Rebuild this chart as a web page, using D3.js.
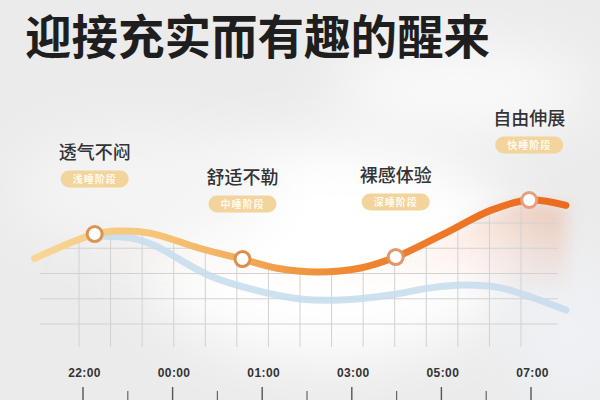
<!DOCTYPE html>
<html>
<head>
<meta charset="utf-8">
<script src="https://cdn.jsdelivr.net/npm/d3@7"></script>
<style>
body { margin: 0; background: #ececec; }
svg { display: block; }
</style>
</head>
<body>
<svg width="600" height="400"></svg>
<script>
// **** chart values ****
var stageNames = ['透气不闷', '舒适不勒', '裸感体验', '自由伸展'];
var stageTags = ['浅睡阶段', '中睡阶段', '深睡阶段', '快睡阶段'];
// x in time slots (0 = 22:00, 5 = 07:00), y in grid levels
var stageX = [0.13, 1.78, 3.49, 4.98];
var stageY = [3.56, 2.57, 2.65, 4.91];

var timeLabels = ['22:00', '00:00', '01:00', '03:00', '05:00', '07:00'];
var minorTicks = [0.5, 1.5, 2.5, 3.5, 4.5];
var gridLevels = [0, 1, 2, 3, 4];

var mainX = [-0.54, 0.13, 0.4, 0.75, 1.3, 1.78, 2.15, 2.62, 3.1, 3.49, 4.1, 4.55, 4.98, 5.39];
var mainY = [2.6, 3.56, 3.68, 3.6, 3.0, 2.57, 2.22, 2.06, 2.22, 2.65, 3.7, 4.5, 4.91, 4.7];

var blueX = [0.19, 0.53, 0.81, 1.09, 1.42, 1.87, 2.43, 2.87, 3.43, 3.88, 4.27, 4.66, 5.0, 5.39];
var blueY = [3.48, 3.41, 3.09, 2.53, 1.9, 1.39, 0.99, 0.95, 1.15, 1.43, 1.54, 1.43, 1.07, 0.55];

// **** scales ****
var xScale = d3.scaleLinear().domain([0, 5]).range([83, 531]);
var yScale = d3.scaleLinear().domain([0, 4]).range([324, 223]);
var colScale = d3.scaleLinear().domain([0, 14]).range([79, 521]);

var svg = d3.select('svg');
var defs = svg.append('defs');
var cjk = '"Noto Sans CJK SC", "Noto Sans CJK JP", sans-serif';

let mainPts = mainX.map((d, i) => [d, mainY[i]]);
let bluePts = blueX.map((d, i) => [d, blueY[i]]);

let line = d3.line()
    .x(d => xScale(d[0]))
    .y(d => yScale(d[1]))
    .curve(d3.curveCatmullRom.alpha(0.5));

let under = d3.area()
    .x(d => xScale(d[0]))
    .y0(360)
    .y1(d => yScale(d[1]) + 3)
    .curve(d3.curveCatmullRom.alpha(0.5));

// **** defs ****
defs.append('filter').attr('id', 'blur').attr('x', '-50%').attr('y', '-50%')
    .attr('width', '200%').attr('height', '200%')
    .append('feGaussianBlur').attr('stdDeviation', 30);
defs.append('filter').attr('id', 'soft').attr('x', '-20%').attr('y', '-50%')
    .attr('width', '140%').attr('height', '200%')
    .append('feGaussianBlur').attr('stdDeviation', 8);

let lg = defs.append('linearGradient').attr('id', 'lineGrad')
    .attr('gradientUnits', 'userSpaceOnUse')
    .attr('x1', 35).attr('x2', 565).attr('y1', 0).attr('y2', 0);
[[0, '#f7d695'], [0.22, '#f5c679'], [0.36, '#f3b262'], [0.48, '#f09a45'],
 [0.62, '#ee8430'], [0.8, '#ee7626'], [1, '#ec6a1e']].forEach(s => {
    lg.append('stop').attr('offset', s[0]).attr('stop-color', s[1]);
});

let glowGrad = defs.append('linearGradient').attr('id', 'glowGrad')
    .attr('gradientUnits', 'userSpaceOnUse')
    .attr('x1', 35).attr('x2', 565).attr('y1', 0).attr('y2', 0);
[[0, '#f6d7a0', 0.0], [0.35, '#f2b27a', 0.12], [0.65, '#f09060', 0.15], [1, '#ee7a4a', 0.35]].forEach(s => {
    glowGrad.append('stop').attr('offset', s[0]).attr('stop-color', s[1]).attr('stop-opacity', s[2]);
});

let fadeGrad = defs.append('linearGradient').attr('id', 'fadeGrad')
    .attr('x1', 0).attr('x2', 0).attr('y1', 0).attr('y2', 1);
fadeGrad.append('stop').attr('offset', 0).attr('stop-color', '#fff');
fadeGrad.append('stop').attr('offset', 0.6).attr('stop-color', '#000');
defs.append('mask').attr('id', 'fadeMask')
    .attr('maskUnits', 'userSpaceOnUse')
    .append('rect').attr('x', 0).attr('y', 195).attr('width', 600).attr('height', 170)
    .attr('fill', 'url(#fadeGrad)');

defs.append('clipPath').attr('id', 'underClip')
    .append('path').attr('d', under(mainPts));

// **** background ****
let bg = svg.append('g');
bg.append('rect').attr('width', 600).attr('height', 400).attr('fill', '#ebebeb');
bg.append('ellipse').attr('cx', 330).attr('cy', 250).attr('rx', 190).attr('ry', 110)
    .attr('fill', '#ffffff').attr('filter', 'url(#blur)');
bg.append('ellipse').attr('cx', 460).attr('cy', 90).attr('rx', 130).attr('ry', 45)
    .attr('fill', '#fafafa').attr('filter', 'url(#blur)');
bg.append('ellipse').attr('cx', 140).attr('cy', 190).attr('rx', 130).attr('ry', 60)
    .attr('fill', '#f4f4f4').attr('filter', 'url(#blur)');
bg.append('ellipse').attr('cx', 570).attr('cy', 330).attr('rx', 60).attr('ry', 80)
    .attr('fill', '#eff1f5').attr('filter', 'url(#blur)');

// **** glow under the curve ****
svg.append('path')
    .attr('d', under(mainPts))
    .attr('fill', 'url(#glowGrad)')
    .attr('mask', 'url(#fadeMask)')
    .attr('filter', 'url(#soft)');

// **** grid ****
let grid = svg.append('g').attr('clip-path', 'url(#underClip)')
    .attr('stroke', '#d2d2d2').attr('stroke-width', 1);
grid.selectAll('line.h')
    .data(gridLevels)
    .enter()
    .append('line')
        .attr('class', 'h')
        .attr('x1', 40).attr('x2', 558)
        .attr('y1', d => yScale(d)).attr('y2', d => yScale(d));
grid.selectAll('line.v')
    .data(d3.range(15))
    .enter()
    .append('line')
        .attr('class', 'v')
        .attr('x1', d => colScale(d)).attr('x2', d => colScale(d))
        .attr('y1', 190).attr('y2', 347);

// **** curves ****
svg.append('path')
    .attr('d', line(bluePts))
    .attr('fill', 'none')
    .attr('stroke', '#c6dcec')
    .attr('stroke-opacity', 0.85)
    .attr('stroke-width', 7)
    .attr('stroke-linecap', 'round');

svg.append('path')
    .attr('d', line(mainPts))
    .attr('fill', 'none')
    .attr('stroke', 'url(#lineGrad)')
    .attr('stroke-width', 7)
    .attr('stroke-linecap', 'round');

// **** stage markers, names and tags ****
let stages = stageNames.map((n, i) => ({name: n, tag: stageTags[i], x: stageX[i], y: stageY[i]}));
let sg = svg.append('g').selectAll('g')
    .data(stages)
    .enter()
    .append('g')
    .attr('transform', d => `translate(${xScale(d.x)},${yScale(d.y)})`);

sg.append('circle')
    .attr('r', 7.5)
    .attr('fill', '#fff')
    .attr('stroke', (d, i) => ['#dc9452', '#df8c4c', '#e2966a', '#e6a080'][i])
    .attr('stroke-width', 3);

sg.append('text')
    .attr('y', -75)
    .attr('text-anchor', 'middle')
    .attr('font-family', cjk)
    .attr('font-size', 18)
    .attr('font-weight', 500)
    .attr('fill', '#333')
    .text(d => d.name);

sg.append('rect')
    .attr('x', -34).attr('y', -63.5)
    .attr('width', 68).attr('height', 17).attr('rx', 8.5)
    .attr('fill', '#f2d49c');

sg.append('text')
    .attr('y', -51.5)
    .attr('text-anchor', 'middle')
    .attr('font-family', cjk)
    .attr('font-size', 10)
    .attr('font-weight', 700)
    .attr('letter-spacing', 1)
    .attr('fill', '#fff9ee')
    .text(d => d.tag);

// **** time axis ****
let axis = svg.append('g');
axis.selectAll('text')
    .data(timeLabels)
    .enter()
    .append('text')
        .attr('x', (d, i) => xScale(i) + 1.5)
        .attr('y', 376.5)
        .attr('text-anchor', 'middle')
        .attr('font-family', '"Liberation Sans", Arial, sans-serif')
        .attr('font-size', 12)
        .attr('font-weight', 700)
        .attr('letter-spacing', 0.4)
        .attr('fill', '#333')
        .text(d => d);
axis.selectAll('line.major')
    .data(timeLabels)
    .enter()
    .append('line')
        .attr('class', 'major')
        .attr('x1', (d, i) => xScale(i)).attr('x2', (d, i) => xScale(i))
        .attr('y1', 387).attr('y2', 400)
        .attr('stroke', '#555').attr('stroke-width', 1.4);
axis.selectAll('line.minor')
    .data(minorTicks)
    .enter()
    .append('line')
        .attr('class', 'minor')
        .attr('x1', d => xScale(d)).attr('x2', d => xScale(d))
        .attr('y1', 391).attr('y2', 400)
        .attr('stroke', '#666').attr('stroke-width', 1.2);

// **** title ****
svg.append('text')
    .attr('x', 25)
    .attr('y', 54)
    .attr('font-family', cjk)
    .attr('font-size', 46.5)
    .attr('font-weight', 700)
    .attr('fill', '#1e1e1e')
    .text('迎接充实而有趣的醒来');
</script>
</body>
</html>
